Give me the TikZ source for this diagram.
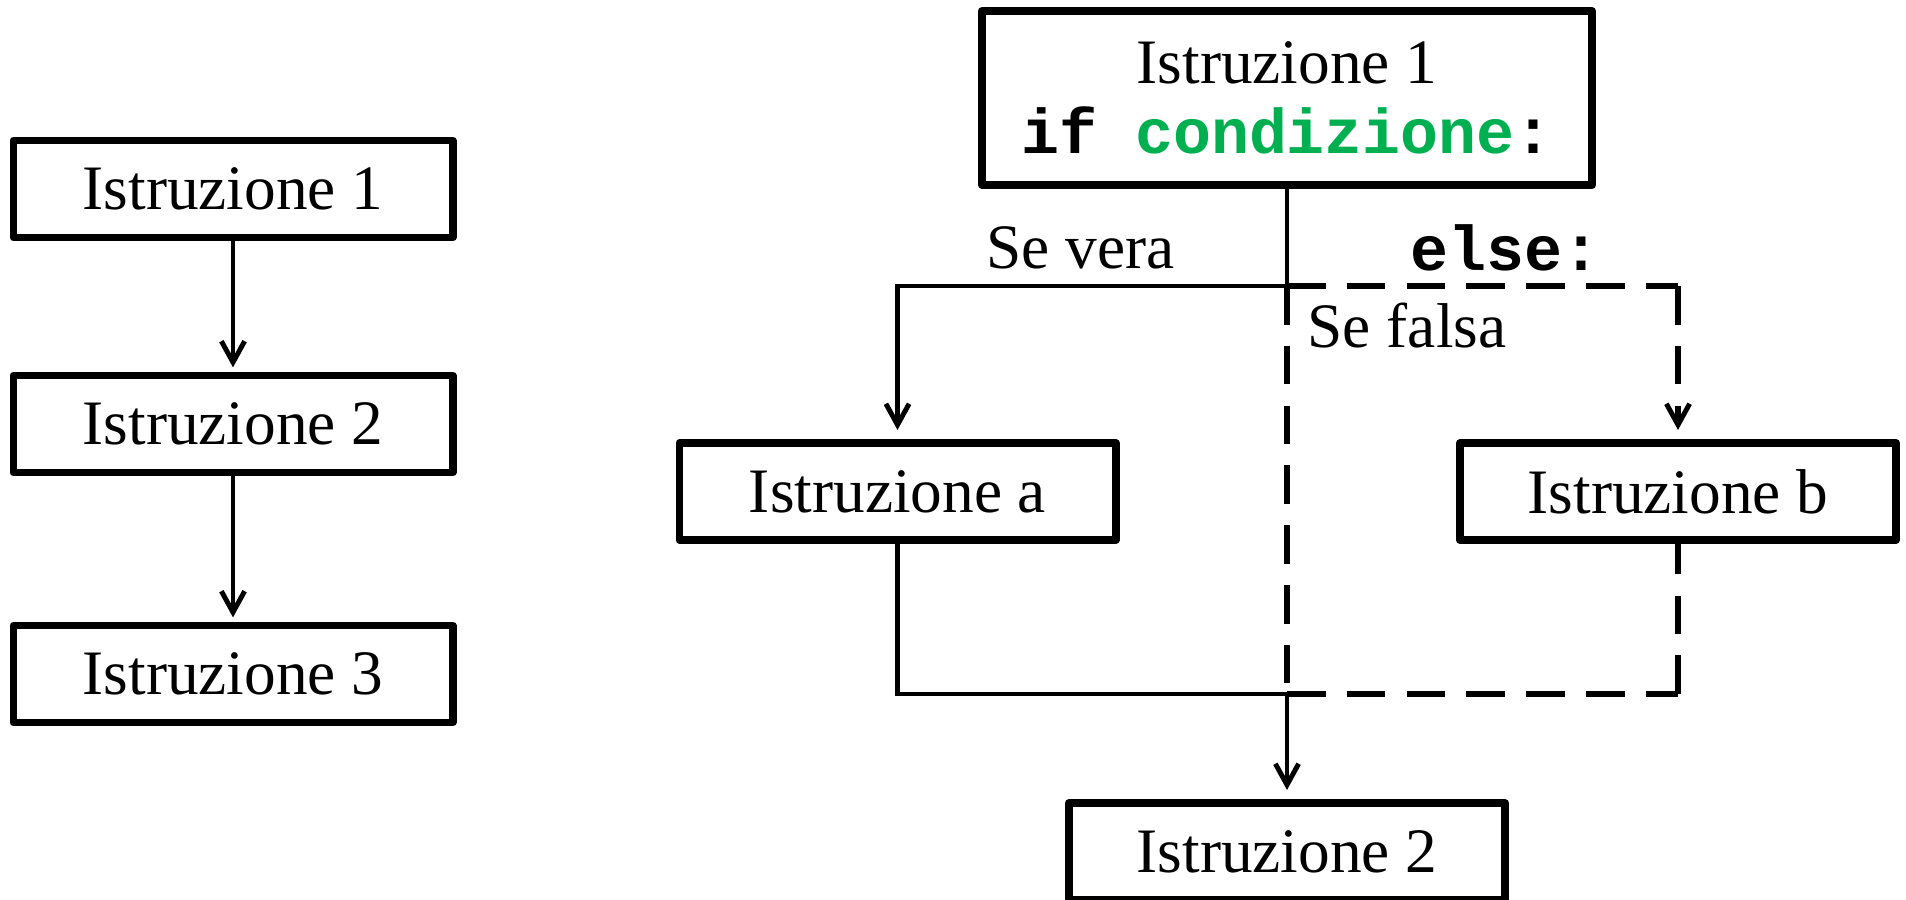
\documentclass[tikz,border=0pt]{standalone}
\usepackage{fontspec}
\setmainfont{Liberation Serif}
\setmonofont{Liberation Mono}
\usetikzlibrary{arrows.meta}
\definecolor{condgreen}{RGB}{0,176,80}
\begin{document}
\begin{tikzpicture}[x=0.01cm,y=-0.01cm,
  txt/.style={font=\fontsize{18}{20}\selectfont},
  box/.style={txt, draw, line width=2.2pt, line join=round,
    minimum width=4.36cm, minimum height=0.97cm, inner sep=0pt},
  conn/.style={line width=1.4pt},
  tip/.style={-{Straight Barb[length=6pt,width=6.6pt,line width=1.4pt]}},
  flow/.style={conn, tip, shorten >=1.2pt},
  branch/.style={conn, tip, shorten >=2.6pt},
  alt/.style={line width=1.55pt, dash pattern=on 11pt off 6pt},
  lbl/.style={txt, inner sep=0pt, anchor=base west}]
\useasboundingbox (0,0) rectangle (1906,899);

% plain sequence
\node[box, minimum width=4.39cm] (s1) at (233,189) {Istruzione 1};
\node[box, minimum width=4.39cm] (s2) at (233,424) {Istruzione 2};
\node[box, minimum width=4.39cm] (s3) at (233,674) {Istruzione 3};
\draw[flow] (s1) -- (s2);
\draw[flow] (s2) -- (s3);

% if / else branch
\node[box, minimum width=6.10cm, minimum height=1.74cm, align=center] (cond) at (1287,98)
  {Istruzione 1\\ \texttt{\bfseries if \textcolor{condgreen}{condizione}:}};
\node[box] (ia) at (897.5,491.5) {Istruzione a};
\node[box] (ib) at (1678,491.5) {Istruzione b};
\node[box] (j2) at (1287,851.5) {Istruzione 2};
\coordinate (split) at (1287,286);
\coordinate (merge) at (1287,694);
\coordinate (elsetop) at (split -| ib.north);
\coordinate (elsebot) at (merge -| ib.south);

% true path
\draw[conn] (cond.south) -- (split);
\draw[branch] (split) -| (ia.north);
\draw[conn] (ia.south) |- (merge);
% false path
\draw[alt] (split) -- (elsetop);
\draw[alt, branch, line width=1.55pt] (elsetop) -- (ib.north);
\draw[alt] (split) -- (merge);
\draw[alt] (merge) -- (elsebot);
\draw[alt] (elsebot) -- (ib.south);
% join
\draw[branch] (merge) -- (j2.north);

\node[lbl] (severa) at (986,268) {Se vera};
\node[lbl] (elsekw) at (1410,270) {\texttt{\bfseries else:}};
\node[lbl] (sefalsa) at (1307,347) {Se falsa};
\end{tikzpicture}
\end{document}
